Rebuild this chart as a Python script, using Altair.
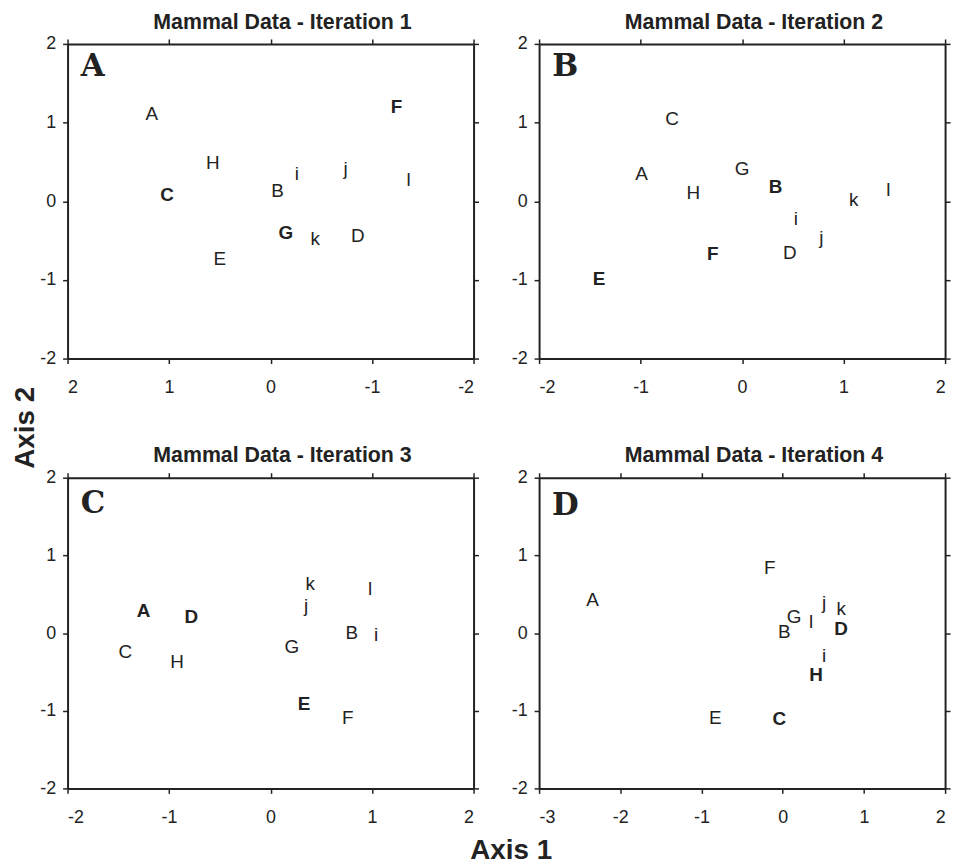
import altair as alt
import pandas as pd

labels = ["A", "B", "C", "D", "E", "F", "G", "H", "i", "j", "k", "l"]

it1_x = [1.17, -0.07, 1.02, -0.86, 0.50, -1.24, -0.15, 0.57, -0.26, -0.74, -0.44, -1.36]
it1_y = [1.11, 0.13, 0.08, -0.44, -0.74, 1.20, -0.41, 0.48, 0.34, 0.41, -0.48, 0.27]
it1_bold = ["C", "F", "G"]

it2_x = [-0.99, 0.33, -0.69, 0.47, -1.41, -0.29, 0.00, -0.48, 0.53, 0.78, 1.10, 1.44]
it2_y = [0.35, 0.18, 1.04, -0.66, -0.99, -0.67, 0.41, 0.11, -0.23, -0.47, 0.02, 0.14]
it2_bold = ["B", "E", "F"]

it3_x = [-1.25, 0.80, -1.43, -0.78, 0.33, 0.76, 0.21, -0.92, 1.04, 0.35, 0.39, 0.98]
it3_y = [0.28, 0.00, -0.24, 0.21, -0.91, -1.10, -0.18, -0.37, -0.03, 0.35, 0.63, 0.57]
it3_bold = ["A", "D", "E"]

it4_x = [-2.34, 0.02, -0.04, 0.72, -0.83, -0.16, 0.14, 0.41, 0.51, 0.51, 0.72, 0.35]
it4_y = [0.42, 0.01, -1.11, 0.05, -1.10, 0.84, 0.20, -0.54, -0.30, 0.38, 0.31, 0.14]
it4_bold = ["C", "D", "H"]

panel_titles = ["Mammal Data - Iteration 1", "Mammal Data - Iteration 2",
                "Mammal Data - Iteration 3", "Mammal Data - Iteration 4"]
panel_letters = ["A", "B", "C", "D"]
panel_letter_x = [1.87, -1.87, -1.87, -2.84]
panel_letter_y = [1.70, 1.70, 1.66, 1.64]
x_domains = [[-2, 2], [-2, 2], [-2, 2], [-3, 2]]
x_reversed = [True, False, False, False]

INK = "#222222"
W = 409
LABEL_EXPR = "'' + datum.value"


def panel(i, xs, ys, bold, h):
    df = pd.DataFrame({"label": labels, "x": xs, "y": ys})
    df["bold"] = df["label"].isin(bold)
    dom = x_domains[i]
    xscale = alt.Scale(domain=dom, reverse=x_reversed[i], nice=False, zero=False)
    yscale = alt.Scale(domain=[-2, 2], nice=False, zero=False)
    xt = list(range(dom[0], dom[1] + 1))
    yt = [-2, -1, 0, 1, 2]
    base = alt.Chart(df)
    reg = base.transform_filter("!datum.bold").mark_text(
        font="Liberation Sans", fontSize=19, color=INK, baseline="middle"
    ).encode(
        x=alt.X("x:Q", scale=xscale, axis=alt.Axis(values=xt, orient="bottom", title=None,
                                                   labelExpr=LABEL_EXPR, labelPadding=15)),
        y=alt.Y("y:Q", scale=yscale, axis=alt.Axis(values=yt, orient="left", title=None,
                                                   labelExpr=LABEL_EXPR, labelPadding=7)),
        text="label:N",
    )
    bld = base.transform_filter("datum.bold").mark_text(
        font="Liberation Sans", fontSize=19, fontWeight="bold", color=INK, baseline="middle"
    ).encode(
        x=alt.X("x:Q", scale=xscale, axis=alt.Axis(values=xt, orient="top", title=None, labels=False)),
        y=alt.Y("y:Q", scale=yscale, axis=alt.Axis(values=yt, orient="right", title=None, labels=False)),
        text="label:N",
    )
    ldf = pd.DataFrame({"t": [panel_letters[i]], "x": [panel_letter_x[i]], "y": [panel_letter_y[i]]})
    let = alt.Chart(ldf).mark_text(
        font="DejaVu Serif", fontSize=31, fontWeight="bold", color=INK, align="left", baseline="middle"
    ).encode(
        x=alt.X("x:Q", scale=xscale, axis=None),
        y=alt.Y("y:Q", scale=yscale, axis=None),
        text="t:N",
    )
    return alt.layer(reg, bld, let).resolve_axis(x="independent", y="independent").properties(
        width=W, height=h,
        title=alt.TitleParams(panel_titles[i], font="Liberation Sans", fontSize=21.5, fontWeight="bold",
                              color=INK, frame="group", anchor="middle", dx=12, offset=2),
    )


p1 = panel(0, it1_x, it1_y, it1_bold, 317)
p2 = panel(1, it2_x, it2_y, it2_bold, 317)
p3 = panel(2, it3_x, it3_y, it3_bold, 313)
p4 = panel(3, it4_x, it4_y, it4_bold, 313)

row1 = alt.hconcat(p1, p2, spacing=31)
row2 = alt.hconcat(p3, p4, spacing=31)
inner = alt.vconcat(row1, row2, spacing=49,
                    title=alt.TitleParams("Axis 2", orient="left", anchor="middle", font="Liberation Sans",
                                          fontSize=28, fontWeight="bold", color=INK, offset=0, dx=-9))
chart = alt.vconcat(inner, title=alt.TitleParams("Axis 1", orient="bottom", anchor="middle",
                                                 font="Liberation Sans", fontSize=28, fontWeight="bold",
                                                 color=INK, dx=30, offset=11)).properties(
    background="white", padding={"left": 3, "top": 0, "right": 5, "bottom": 0}
).configure_view(
    stroke=None
).configure_axis(
    grid=False, domainColor=INK, domainWidth=2, tickColor=INK, tickWidth=1.5, tickSize=5,
    labelFont="Liberation Sans", labelFontSize=18, labelColor=INK,
)

chart.save("out.html", embed_options={"renderer": "svg", "actions": False})
